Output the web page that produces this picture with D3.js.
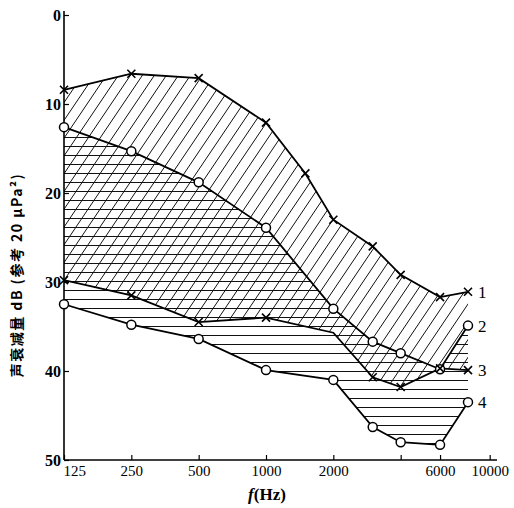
<!DOCTYPE html>
<html>
<head>
<meta charset="utf-8">
<script src="https://cdn.jsdelivr.net/npm/d3@7/dist/d3.min.js"></script>
<style>
  body { margin: 0; background: #fff; }
  svg { display: block; }
</style>
</head>
<body>
<div id="chart"></div>
<script>
/*globals d3 */
(function () {
    'use strict';
    var svg, defs, x, y, line, xAxis, yAxis, series, k,
        width = 514,
        height = 508,
        diagStep = 12,      // horizontal gap between diagonal hatch lines
        diagSlope = 0.675,  // dx per dy of the "/" hatch
        horizStep = 9;

    // frequencies (Hz)
    var freqs = [125, 250, 500, 1000, 2000, 3000, 4000, 6000, 8000];
    var freqs1 = [125, 250, 500, 1000, 1500, 2000, 3000, 4000, 6000, 8000];

    // sound attenuation, dB
    var curve1 = [8.4, 6.6, 7.1, 12.1, 17.8, 23.0, 26.0, 29.2, 31.7, 31.1];
    var curve2 = [12.6, 15.3, 18.8, 23.9, 33.0, 36.7, 38.0, 39.8, 34.9];
    var curve3 = [29.8, 31.5, 34.5, 34.0, 35.7, 40.7, 41.8, 39.7, 39.9];
    var curve4 = [32.5, 34.8, 36.4, 39.9, 41.0, 46.3, 48.0, 48.3, 43.5];

    var curveNames = ["1", "2", "3", "4"];
    var markerTypes = ["cross", "circle", "cross", "circle"];
    // vertices drawn without a marker, per curve
    var unmarked = [[], [], [2000], []];

    var xTicks = [125, 250, 500, 1000, 2000, 4000, 6000, 10000];
    var xTickLabels = ["125", "250", "500", "1000", "2000", "", "6000", "10000"];
    var yTicks = [0, 10, 20, 30, 40, 50];

    function pts(fs, vals) {
        return fs.map(function (f, i) { return [f, vals[i]]; });
    }

    series = [
        pts(freqs1, curve1),
        pts(freqs, curve2),
        pts(freqs, curve3),
        pts(freqs, curve4)
    ];

    x = d3.scaleLog().domain([125, 8000]).range([64, 468]);
    y = d3.scaleLinear().domain([0, 50]).range([15, 460]);

    line = d3.line()
        .x(function (d) { return x(d[0]); })
        .y(function (d) { return y(d[1]); });

    svg = d3.select("#chart").append("svg")
        .attr("width", width)
        .attr("height", height);

    defs = svg.append("defs");

    // band between curve 1 and curve 3 -> diagonal hatch
    defs.append("clipPath")
        .attr("id", "band13")
        .append("path")
        .attr("d", line(series[0].concat(series[2].slice().reverse())) + "Z");

    // band between curve 2 and curve 4 -> horizontal hatch
    defs.append("clipPath")
        .attr("id", "band24")
        .append("path")
        .attr("d", line(series[1].concat(series[3].slice().reverse())) + "Z");

    var diag = [], horiz = [];
    for (k = -400; k < 520; k += diagStep) { diag.push(k); }
    for (k = 2; k < 470; k += horizStep) { horiz.push(k); }

    svg.append("g")
        .attr("clip-path", "url(#band13)")
        .selectAll("line")
        .data(diag)
        .enter()
        .append("line")
        .attr("x1", function (d) { return d; })
        .attr("y1", 470)
        .attr("x2", function (d) { return d + 470 * diagSlope; })
        .attr("y2", 0)
        .attr("stroke", "#111")
        .attr("stroke-width", 1);

    svg.append("g")
        .attr("clip-path", "url(#band24)")
        .selectAll("line")
        .data(horiz)
        .enter()
        .append("line")
        .attr("x1", 60)
        .attr("y1", function (d) { return d + 0.5; })
        .attr("x2", 480)
        .attr("y2", function (d) { return d + 0.5; })
        .attr("stroke", "#111")
        .attr("stroke-width", 1);

    // axes
    yAxis = d3.axisLeft(y)
        .tickValues(yTicks)
        .tickSizeInner(-5)
        .tickSizeOuter(0)
        .tickPadding(3);

    xAxis = d3.axisBottom(x)
        .tickValues(xTicks)
        .tickFormat(function (d, i) { return xTickLabels[i]; })
        .tickSizeInner(-5)
        .tickSizeOuter(0)
        .tickPadding(5);

    var gy = svg.append("g")
        .attr("transform", "translate(64,0)")
        .call(yAxis);
    gy.select(".domain").attr("d", "M0,11V460").attr("stroke-width", 1.6);
    gy.selectAll(".tick line").attr("stroke-width", 1.2);
    gy.selectAll(".tick text")
        .style("font-family", "'Liberation Serif', serif")
        .style("font-size", "16px")
        .style("font-weight", "bold")
        .attr("fill", "#000");

    var gx = svg.append("g")
        .attr("transform", "translate(0,460)")
        .call(xAxis);
    gx.select(".domain").attr("d", "M64,0H497").attr("stroke-width", 1.6);
    gx.selectAll(".tick line").attr("stroke-width", 1.2);
    gx.selectAll(".tick text")
        .style("font-family", "'Liberation Serif', serif")
        .style("font-size", "15px")
        .attr("fill", "#000")
        .attr("text-anchor", function (d) { return d === 125 ? "start" : "middle"; })
        .attr("x", function (d) { return d === 125 ? -1 : 0; });

    // curves
    svg.selectAll("path.curve")
        .data(series)
        .enter()
        .append("path")
        .attr("class", "curve")
        .attr("d", line)
        .attr("fill", "none")
        .attr("stroke", "#000")
        .attr("stroke-width", 1.8);

    // markers
    series.forEach(function (s, i) {
        var g = svg.append("g").attr("class", "marks"),
            shown = s.filter(function (d) { return unmarked[i].indexOf(d[0]) < 0; });
        if (markerTypes[i] === "circle") {
            g.selectAll("circle")
                .data(shown)
                .enter()
                .append("circle")
                .attr("cx", function (d) { return x(d[0]); })
                .attr("cy", function (d) { return y(d[1]); })
                .attr("r", 4.5)
                .attr("fill", "#fff")
                .attr("stroke", "#000")
                .attr("stroke-width", 1.5);
        } else {
            g.selectAll("path")
                .data(shown)
                .enter()
                .append("path")
                .attr("transform", function (d) {
                    return "translate(" + x(d[0]) + "," + y(d[1]) + ")";
                })
                .attr("d", "M-4,-4L4,4M-4,4L4,-4")
                .attr("stroke", "#000")
                .attr("stroke-width", 1.6);
        }
    });

    // curve numbers
    svg.selectAll("text.cname")
        .data(series)
        .enter()
        .append("text")
        .attr("class", "cname")
        .attr("x", function (d) { return x(d[d.length - 1][0]) + 10; })
        .attr("y", function (d) { return y(d[d.length - 1][1]) + 6; })
        .style("font-family", "'Liberation Serif', serif")
        .style("font-size", "17px")
        .text(function (d, i) { return curveNames[i]; });

    // axis titles
    svg.append("text")
        .attr("transform", "translate(22,275) rotate(-90)")
        .attr("text-anchor", "middle")
        .style("font-family", "'Noto Sans CJK SC', sans-serif")
        .style("font-size", "14px")
        .style("font-weight", "bold")
        .style("letter-spacing", "1.5px")
        .text("声衰减量 dB (参考 20 μPa²)");

    var xt = svg.append("text")
        .attr("x", 267)
        .attr("y", 500)
        .attr("text-anchor", "middle")
        .style("font-family", "'Liberation Serif', serif")
        .style("font-size", "17px")
        .style("font-weight", "bold");
    xt.append("tspan").style("font-style", "italic").text("f");
    xt.append("tspan").text("(Hz)");
}());
</script>
</body>
</html>
